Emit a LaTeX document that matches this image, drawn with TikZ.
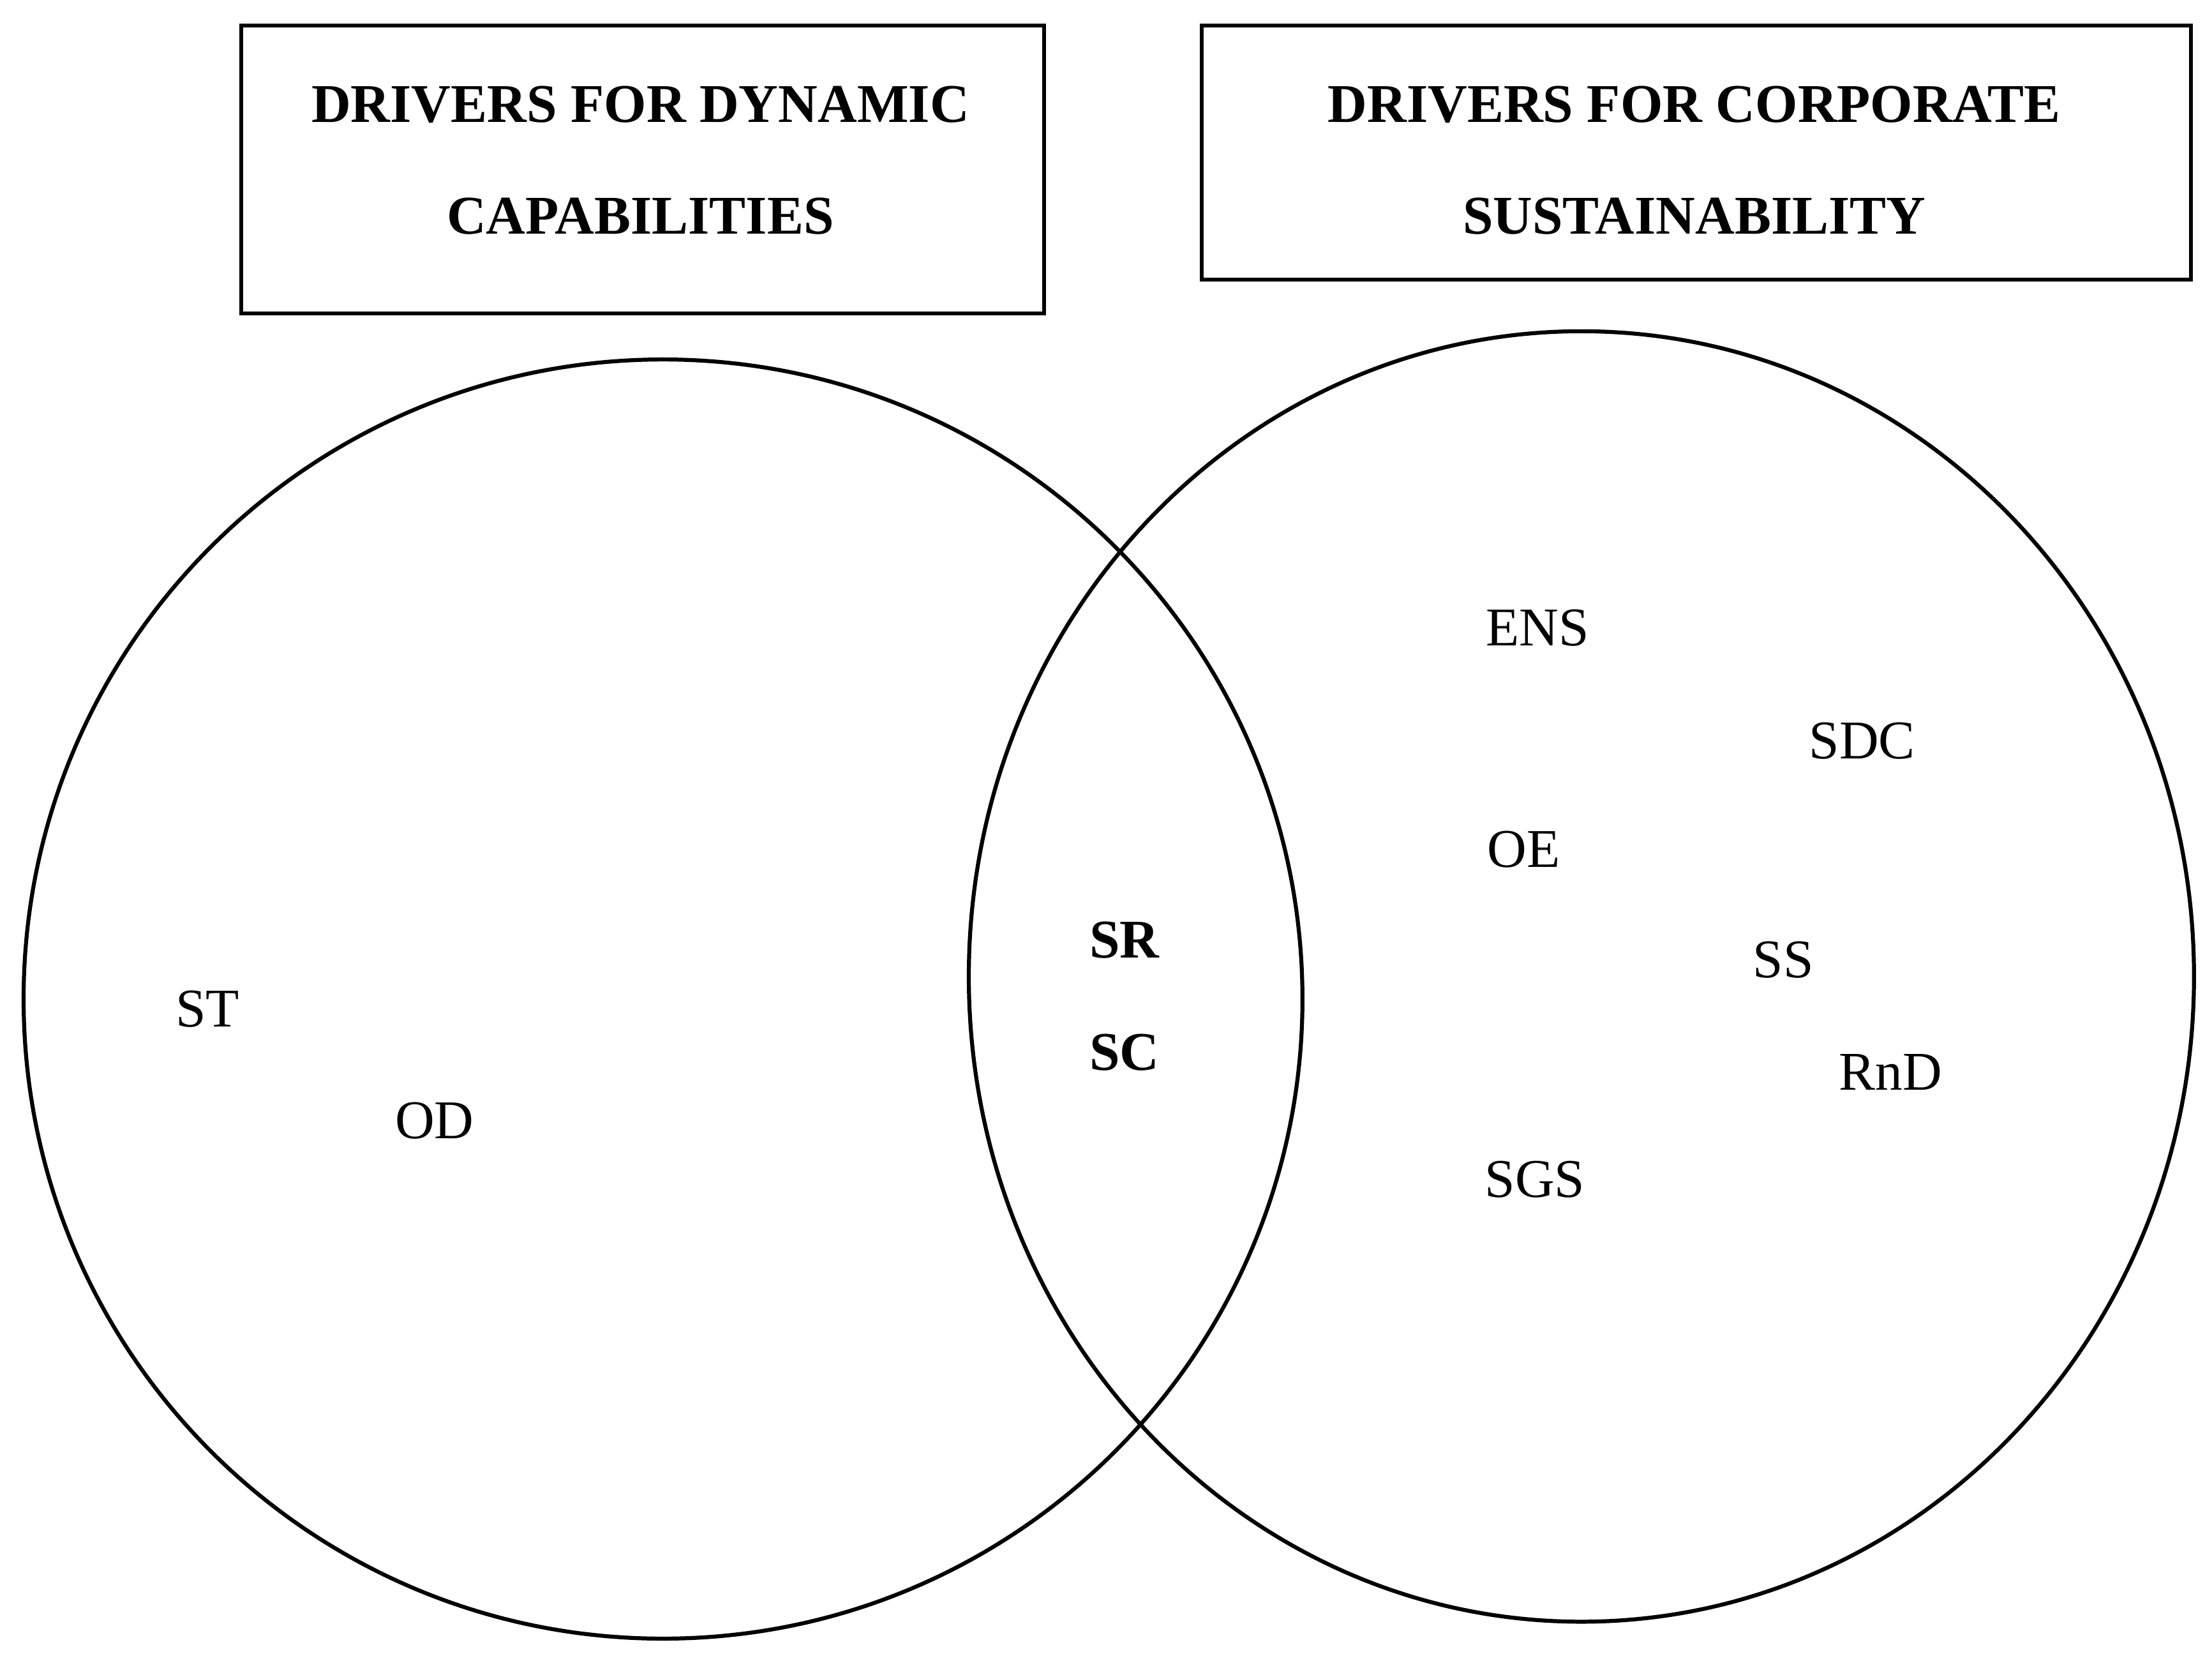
\documentclass[tikz,border=0pt]{standalone}
\usepackage{fontspec}
\setmainfont{Liberation Serif}
\usetikzlibrary{shapes.geometric}

\begin{document}
\begin{tikzpicture}[x=0.01cm,y=-0.01cm,
    label/.style={font=\fontsize{11}{13}\selectfont},
    head/.style={font=\fontsize{11}{13}\selectfont\bfseries,align=center}]
  \useasboundingbox (0,0) rectangle (1568,1172);
  \node[draw,thick,minimum width=5.69cm,minimum height=2.04cm] (boxdc) at (455.5,120) {};
  \node[draw,thick,minimum width=7.01cm,minimum height=1.80cm] (boxcs) at (1202.5,108) {};
  \node[head] (hdc1) at (454,74) {DRIVERS FOR DYNAMIC};
  \node[head] (hdc2) at (454,153) {CAPABILITIES};
  \node[head] (hcs1) at (1201,74) {DRIVERS FOR CORPORATE};
  \node[head] (hcs2) at (1201,153) {SUSTAINABILITY};
  \node[circle,draw,thick,minimum size=9.06cm] (dc) at (470,708) {};
  \node[ellipse,draw,thick,minimum width=8.68cm,minimum height=9.14cm] (cs) at (1121,692) {};
    \node[label] (st) at (147,715) {ST};
    \node[label] (od) at (308,794) {OD};
    \node[label,font=\fontsize{11}{13}\selectfont\bfseries] (sr) at (797,666) {SR};
    \node[label,font=\fontsize{11}{13}\selectfont\bfseries] (sc) at (797,746) {SC};
    \node[label] (ens) at (1090,445) {ENS};
    \node[label] (sdc) at (1320,525) {SDC};
    \node[label] (oe) at (1080,602) {OE};
    \node[label] (ss) at (1264,680) {SS};
    \node[label] (rnd) at (1340,760) {RnD};
    \node[label] (sgs) at (1088,836) {SGS};
\end{tikzpicture}
\end{document}
